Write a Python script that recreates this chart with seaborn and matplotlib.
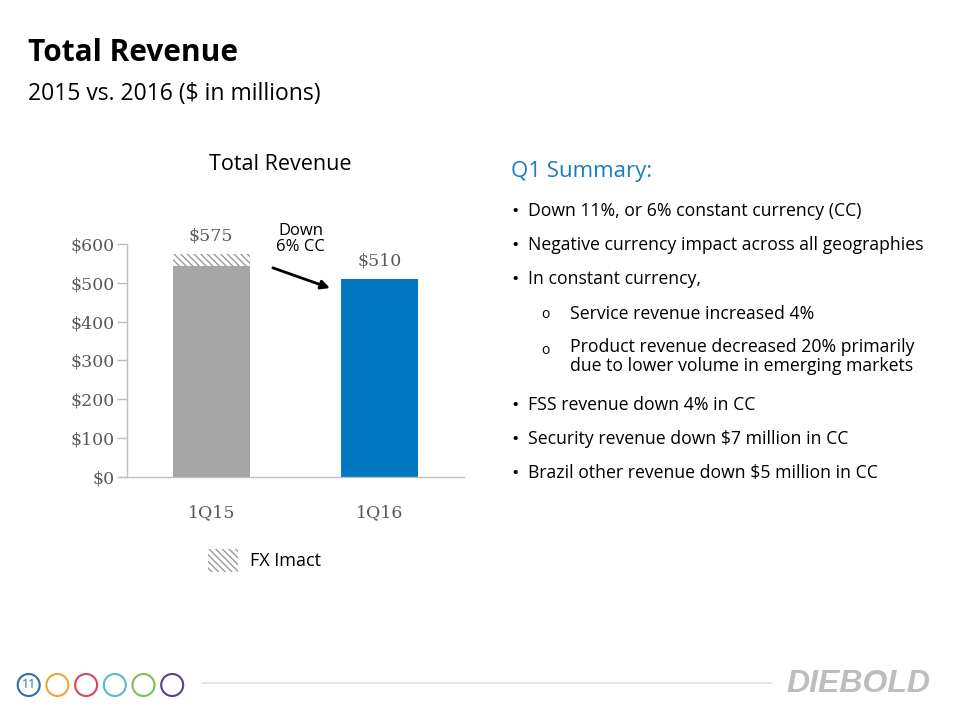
import matplotlib
matplotlib.use('Agg')
import matplotlib.pyplot as plt
import matplotlib.patches as mpatches
import seaborn as sns

# Data ($ in millions)
quarters = ['1Q15', '1Q16']
cc_base = [542, 510]        # constant-currency part
fx_impact = [33, 0]         # FX impact (hatched)
totals = [575, 510]
yticks = [0, 100, 200, 300, 400, 500, 600]

bullets = [
    ('•', 'Down 11%, or 6% constant currency (CC)'),
    ('•', 'Negative currency impact across all geographies'),
    ('•', 'In constant currency,'),
    ('o', 'Service revenue increased 4%'),
    ('o', 'Product revenue decreased 20% primarily\ndue to lower volume in emerging markets'),
    ('•', 'FSS revenue down 4% in CC'),
    ('•', 'Security revenue down $7 million in CC'),
    ('•', 'Brazil other revenue down $5 million in CC'),
]
bullet_y = [211, 245, 279, 314, 349, 405, 439, 473]

footer_colors = ['#2f6fb0', '#e8a838', '#d2495a', '#5bbcc2', '#7dbf5a', '#5b3f8f']

gray = '#a6a6a6'
blue = '#0077c0'
axis_gray = '#bfbfbf'
label_gray = '#595959'

sns.set_theme(style='white')
plt.rcParams['font.family'] = ['Open Sans', 'DejaVu Sans']

fig = plt.figure(figsize=(9.6, 7.2), dpi=100)

# Overlay in pixel coordinates for slide decorations
ov = fig.add_axes([0, 0, 1, 1], zorder=0)
ov.set_xlim(0, 960)
ov.set_ylim(720, 0)
ov.axis('off')

# Chart axes
W, H = 960, 720
left, right, bottom, top = 127, 464, 476.7, 244
ax = fig.add_axes([left / W, 1 - bottom / H, (right - left) / W, (bottom - top) / H], zorder=2)
ax.set_facecolor('none')

sns.barplot(x=quarters, y=cc_base, hue=quarters, palette=[gray, blue],
            width=0.457, saturation=1, legend=False, ax=ax, linewidth=0)
ax.bar(range(len(quarters)), fx_impact, bottom=cc_base, width=0.457,
       facecolor='white', edgecolor='#9a9a9a', hatch='\\\\\\\\\\', linewidth=0)

serif = 'DejaVu Serif'
ax.set_xlim(-0.5, 1.5)
ax.set_ylim(0, 600)
ax.set_yticks(yticks)
ax.set_yticklabels([f'${v}' for v in yticks], family=serif,
                   fontsize=12.5, color=label_gray)
ax.set_xticks(range(len(quarters)))
ax.set_xticklabels(quarters, family=serif, fontsize=12.5, color=label_gray)
ax.tick_params(axis='y', length=7, width=1, color=axis_gray, left=True, pad=2)
ax.tick_params(axis='x', length=0, pad=20)
ax.set_xlabel('')
ax.set_ylabel('')
for s in ['top', 'right']:
    ax.spines[s].set_visible(False)
for s in ['left', 'bottom']:
    ax.spines[s].set_color(axis_gray)
    ax.spines[s].set_linewidth(1)
ax.spines['bottom'].set_bounds(-0.54, 1.5)

for i, t in enumerate(totals):
    ax.text(i, t + 24, f'${t}', ha='center', va='bottom', family=serif,
            fontsize=12.5, color=label_gray)

ax.annotate('', xy=(0.72, 484), xytext=(0.35, 541),
            arrowprops=dict(arrowstyle='-|>', color='black', lw=2, mutation_scale=13),
            annotation_clip=False)
ax.text(0.53, 612, 'Down\n6% CC', ha='center', va='center', fontsize=12,
        color='black', linespacing=1.0, clip_on=False)

# Slide text
ov.text(28, 61, 'Total Revenue', fontsize=21.5, fontweight='bold', color='black', va='baseline')
ov.text(28, 100, '2015 vs. 2016 ($ in millions)', fontsize=16.5, color='black', va='baseline')
ov.text(280, 164, 'Total Revenue', fontsize=15.5, color='black', ha='center', va='center')

# Legend
ov.add_patch(mpatches.Rectangle((208, 549), 30, 23, facecolor='white', edgecolor='#9a9a9a',
                                hatch='\\\\\\\\\\', linewidth=0))
ov.text(250, 561, 'FX Imact', fontsize=13, color='black', va='center')

# Summary
ov.text(511, 172, 'Q1 Summary:', fontsize=16, color='#1a7dc0', va='center')
for (mark, txt), y in zip(bullets, bullet_y):
    if mark == '•':
        ov.text(515, y + 1, '•', fontsize=14, color='black', va='center', ha='center')
        ov.text(528, y, txt, fontsize=12.7, color='black', va='center')
    else:
        ov.text(545, y + 1, 'o', fontsize=10, color='black', va='center', ha='center')
        if '\n' in txt:
            ov.text(570, y - 11, txt, fontsize=12.7, color='black', va='top', linespacing=1.1)
        else:
            ov.text(570, y, txt, fontsize=12.7, color='black', va='center')

# Footer
for i, c in enumerate(footer_colors):
    ov.add_patch(mpatches.Circle((28.7 + i * 28.7, 685), 11, fill=False, edgecolor=c, linewidth=1.5))
ov.text(28.7, 685, '11', fontsize=9, color=footer_colors[0], ha='center', va='center')
ov.plot([202, 772], [683, 683], color='#e0e0e0', lw=1.2)
ov.text(858, 684, 'DIEBOLD', fontsize=23, fontweight='heavy', fontstyle='italic',
        color='#bdbdbd', ha='center', va='center', family='Liberation Sans')

fig.savefig('out.png', dpi=100)
